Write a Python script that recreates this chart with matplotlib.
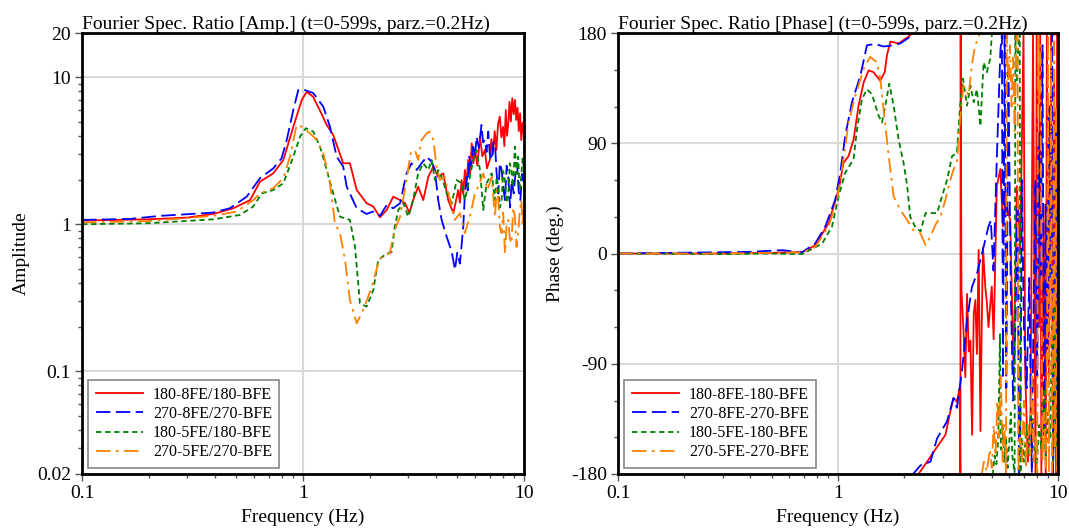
import numpy as np
import matplotlib
matplotlib.use("Agg")
import matplotlib.pyplot as plt
from matplotlib.ticker import FixedLocator, NullFormatter, LogLocator

plt.rcParams['font.family'] = ['Liberation Serif', 'DejaVu Serif']

# ---------------- Amplitude data ----------------
amp_red_f = [0.1, 0.198, 0.3, 0.393, 0.484, 0.576, 0.639, 0.734, 0.815, 0.904, 0.987, 1.04, 1.11, 1.19,
             1.28, 1.37, 1.52, 1.63, 1.75, 1.94, 2.08, 2.23, 2.39, 2.56, 2.75, 2.9, 3.03, 3.15, 3.32, 3.5,
             3.69, 3.89, 4.09, 4.31, 4.54, 4.79, 5.04, 5.13, 5.22, 5.31, 5.4, 5.5, 5.59, 5.7, 5.8, 5.9,
             6.0, 6.15, 6.32, 6.48, 6.65, 6.8, 7.0, 7.12, 7.24, 7.37, 7.5, 7.63, 7.77, 7.9, 8.04, 8.15,
             8.27, 8.38, 8.49, 8.6, 8.72, 8.85, 8.98, 9.1, 9.23, 9.35, 9.47, 9.6, 9.72, 9.85, 9.97]
amp_red_v = [1.06, 1.08, 1.11, 1.175, 1.285, 1.46, 1.95, 2.22, 2.74, 4.6, 7.0, 7.96, 7.38, 5.98,
             4.74, 4.05, 2.6, 2.6, 1.71, 1.39, 1.32, 1.115, 1.25, 1.54, 1.46, 1.39, 1.19, 1.46, 1.8, 1.46,
             2.1, 2.47, 2.1, 2.22, 1.46, 1.19, 1.71, 1.4, 2.0, 1.6, 2.34, 1.9, 2.74, 2.2, 3.55, 2.6,
             3.2, 2.5, 3.94, 2.9, 3.2, 2.4, 2.74, 3.8, 3.0, 4.3, 3.2, 4.8, 5.4, 3.9, 4.6, 3.4,
             5.98, 4.0, 4.86, 6.8, 5.0, 7.2, 5.6, 7.0, 5.12, 6.2, 4.3, 5.68, 3.74, 4.9, 4.16]

amp_blue_f = [0.1, 0.165, 0.225, 0.392, 0.467, 0.556, 0.639, 0.734, 0.8, 0.844, 0.904, 0.952, 1.0, 1.113,
              1.236, 1.325, 1.42, 1.52, 1.577, 1.75, 1.94, 2.08, 2.23, 2.39, 2.56, 2.75, 2.94, 3.1, 3.27,
              3.44, 3.63, 3.82, 3.95, 4.09, 4.24, 4.47, 4.71, 4.87, 4.99, 5.13, 5.31, 5.4, 5.5, 5.57,
              5.65, 5.77, 5.89, 6.0, 6.1, 6.25, 6.42, 6.53, 6.65, 6.77, 6.89, 7.0, 7.14, 7.27, 7.39,
              7.52, 7.65, 7.78, 7.92, 8.05, 8.2, 8.35, 8.49, 8.65, 8.8, 8.98, 9.15, 9.3, 9.45, 9.63,
              9.8, 9.97]
amp_blue_v = [1.07, 1.087, 1.14, 1.2, 1.285, 1.54, 2.06, 2.4, 2.81, 3.74, 5.98, 8.19, 8.27, 7.8,
              6.3, 4.6, 2.88, 2.47, 1.8, 1.285, 1.175, 1.22, 1.14, 1.35, 1.285, 1.39, 2.22, 2.6, 2.34,
              2.6, 2.88, 2.66, 2.34, 1.46, 1.07, 0.82, 0.65, 0.49, 0.64, 0.54, 0.96, 1.6, 2.1, 1.7,
              2.88, 2.5, 3.37, 2.9, 3.94, 3.3, 4.74, 3.6, 3.74, 3.1, 4.27, 3.0, 2.74, 3.6, 3.55,
              2.2, 1.62, 2.6, 2.34, 1.8, 1.46, 2.5, 2.1, 1.3, 2.0, 1.62, 2.2, 2.6, 1.7, 1.46,
              2.2, 1.9]

amp_green_f = [0.1, 0.198, 0.393, 0.519, 0.596, 0.65, 0.734, 0.815, 0.904, 0.969, 1.03, 1.113, 1.194,
               1.28, 1.37, 1.47, 1.63, 1.72, 1.81, 1.94, 2.08, 2.19, 2.35, 2.52, 2.6, 2.7, 2.85, 2.99,
               3.15, 3.32, 3.5, 3.69, 3.82, 3.95, 4.09, 4.29, 4.47, 4.71, 4.96, 5.22, 5.4, 5.69, 5.89,
               6.1, 6.32, 6.54, 6.77, 7.14, 7.39, 7.52, 7.65, 7.78, 7.92, 8.05, 8.2, 8.35, 8.49, 8.63,
               8.78, 8.93, 9.09, 9.25, 9.41, 9.56, 9.72, 9.85, 9.97]
amp_green_v = [1.0, 1.016, 1.08, 1.157, 1.32, 1.62, 1.71, 1.9, 2.88, 3.94, 4.5, 4.27, 3.37,
               2.34, 1.62, 1.126, 1.07, 0.7, 0.29, 0.275, 0.357, 0.57, 0.62, 0.65, 0.96, 1.25, 1.39, 1.126,
               1.46, 2.22, 2.6, 2.34, 2.74, 2.0, 2.34, 2.0, 1.62, 1.39, 2.0, 1.9, 1.46, 2.1, 2.74,
               3.2, 2.34, 1.25, 1.9, 2.22, 1.46, 2.1, 1.8, 1.3, 1.46, 2.3, 2.0, 1.4, 1.54, 2.6,
               2.34, 1.8, 3.37, 2.2, 2.88, 1.7, 2.1, 2.8, 2.47]

amp_orange_f = [0.1, 0.198, 0.393, 0.5, 0.596, 0.639, 0.734, 0.815, 0.873, 0.936, 0.987, 1.075, 1.153,
                1.236, 1.325, 1.395, 1.47, 1.55, 1.63, 1.75, 1.87, 2.05, 2.19, 2.27, 2.47, 2.6, 2.75,
                2.94, 3.07, 3.21, 3.32, 3.44, 3.63, 3.75, 3.89, 4.02, 4.16, 4.38, 4.63, 4.87, 5.13, 5.4,
                5.69, 6.0, 6.2, 6.54, 6.83, 7.14, 7.39, 7.52, 7.65, 7.78, 7.92, 8.05, 8.2, 8.35, 8.49,
                8.63, 8.78, 8.93, 9.09, 9.25, 9.41, 9.56, 9.72, 9.85, 9.97]
amp_orange_v = [1.03, 1.05, 1.14, 1.22, 1.46, 1.62, 1.76, 2.06, 2.88, 4.74, 4.6, 4.16, 3.74,
                3.04, 1.9, 1.016, 0.87, 0.57, 0.305, 0.212, 0.26, 0.377, 0.543, 0.6, 0.635, 0.915, 1.126,
                2.0, 3.04, 3.2, 2.74, 3.74, 4.16, 4.27, 3.74, 2.47, 2.0, 2.1, 1.46, 1.07, 1.19, 0.87,
                1.126, 1.62, 1.8, 2.22, 1.71, 2.1, 1.126, 1.7, 1.46, 0.95, 0.87, 1.2, 0.635, 1.0, 1.07,
                0.8, 0.74, 1.3, 1.126, 0.7, 0.87, 1.2, 1.46, 1.0, 1.25]

# ---------------- Phase data (None = gap where curve leaves the frame) ----------------
ph_red_f = [0.1, 0.3, 0.5, 0.6, 0.69, 0.788, 0.906, 1.006, 1.06, 1.117, 1.177, 1.24, 1.31, 1.378, 1.45,
            1.556, 1.63, 1.67, 1.73, 1.886, 2.09, 2.25, None,
            2.3, 2.54, 2.72, 2.92, 3.08, 3.24, 3.35, 3.47, 3.57, 3.60, 3.61, 3.64, 3.72, 3.79, 3.86, 3.93,
            4.0, 4.07, 4.14, 4.21, 4.28, 4.36, 4.44, 4.5, 4.56, 4.67, 4.75, 4.83, 5.0, 5.1, 5.27, 5.47,
            5.62, 5.75, 5.86, 6.07, 6.18, 6.28, 6.4, 6.5, 6.62, 6.73, 6.85, 6.97, 7.1, 7.3, 7.5, 7.7,
            7.9, 8.0, 8.2, 8.3, 8.4, 8.6, 8.8, 8.9, 9.1, 9.3, 9.5, 9.6, 9.8, 9.9, 10.0]
ph_red_v = [0, 0, 0.5, 1, 1, 6.8, 24.7, 52, 74, 79.5, 93, 120.7, 140, 149.5, 148,
            141, 148, 162, 173, 171.5, 177, 182, None,
            -181, -170, -162, -154, -148, -129, -118, -121, -110, -179, 179, -30, -63, -101, -33, -80,
            -71, -148, -49, -38, -82, 3, -145, -60, 5, -27, -40, -60, -27, -70, 55, 69,
            22, 45, 38, 27, -40, -91, -20, 55, 30, 0, 90, 179, -100, -170, -130, 179,
            -179, 179, -60, 179, -179, 40, -179, 179, -100, 179, -179, 150, -179, 179, -150]

ph_blue_f = [0.1, 0.39, 0.557, 0.686, 0.788, 0.875, 0.972, 1.024, 1.079, 1.157, 1.263, 1.354, 1.477,
             1.61, 1.73, 1.92, 2.13, 2.2, None,
             2.17, 2.37, 2.63, 2.82, 3.13, 3.35, 3.47, 3.66, 3.86, 4.06, 4.28, 4.59, 4.83, 4.95, 5.09,
             5.27, 5.47, 5.56, 5.62, 5.72, 5.82, 5.95, 6.1, 6.25, 6.4, 6.55, 6.65, 6.75, 6.85, 7.0, 7.2,
             7.4, 7.6, 7.75, 7.9, 8.05, 8.2, 8.35, 8.5, 8.65, 8.8, 8.95, 9.1, 9.25, 9.4, 9.5, 9.65, 9.8,
             9.9, 10.0]
ph_blue_v = [0, 1.3, 2.7, 1, 8.2, 22, 44, 66, 96, 123.5, 145, 170, 171,
             169, 169.6, 171.5, 177, 182, None,
             -181, -173, -170, -151, -137, -118, -126, -96, -55, -27.5, -16.5, 5.4, 22, 27, -14,
             77, 165, 179, -100, 178, -110, 150, -30, -120, -60, 40, -179, -140, 60, -60, -110,
             -20, -179, -40, 60, -100, 100, -20, 170, -150, 40, -80, 120, -30, 179, -179, -60, 120,
             -120, 50]

ph_green_f = [0.1, 0.3, 0.5, 0.686, 0.846, 0.939, 1.006, 1.079, 1.177, 1.22, 1.285, 1.354, 1.427, 1.53,
              1.585, 1.64, 1.71, 1.79, 1.886, 1.986, 2.06, 2.13, 2.24, 2.37, 2.5, 2.63, 2.82, 2.97, 3.13,
              3.3, 3.47, 3.59, 3.7, 3.86, 4.0, 4.14, 4.28, 4.44, 4.59, 4.75, 4.92, 5.0, 5.05, None,
              5.05, 5.15, 5.25, 5.35, 5.45, 5.5, 5.6, 5.7, 5.8, 5.9, 6.0, 6.1, 6.2, 6.35, 6.4, 6.5, 6.6,
              6.7, 6.75, 6.85, 7.0, 7.2, 7.4, 7.6, 7.8, 8.0, 8.2, 8.4, 8.6, 8.8, 9.0, 9.2, 9.4, 9.5, 9.6,
              9.7, 9.8, 9.9, 10.0]
ph_green_v = [0, -0.5, 0, -0.5, 8, 22, 46.6, 66, 77, 101.5, 126, 134, 130, 112.5,
              107, 120.7, 138.6, 120.7, 93, 74, 56, 30, 22, 18, 33, 33, 33, 46.6, 60,
              79.5, 82, 120.7, 142.7, 120.7, 137, 123.5, 134, 104, 156, 148, 159, 178, 182, None,
              -181, -165, -172, -150, -66, -160, -140, -170, -150, -175, -155, -130, -165, -179, 179, 140, 170,
              179, -179, -150, -170, -140, -165, -120, -160, -175, -140, -160, -110, -170, -130, -150, -60, -170, -30,
              -160, -80, -175, -120]

ph_orange_f = [0.1, 0.3, 0.5, 0.69, 0.788, 0.906, 0.99, 1.043, 1.117, 1.2, 1.31, 1.4, 1.504, 1.556, 1.61,
               1.7, 1.79, 1.92, 2.06, 2.2, 2.37, 2.5, 2.63, 2.77, 2.92, 3.08, 3.24, 3.35, 3.47, 3.59, 3.72,
               3.92, 4.06, 4.2, 4.35, 4.44, None,
               4.5, 4.6, 4.75, 4.9, 5.0, 5.1, 5.2, 5.3, 5.4, 5.5, 5.6, 5.7, 5.8, 5.85, 5.95, 6.05, 6.15,
               6.25, 6.35, 6.45, 6.55, 6.6, 6.7, 6.85, 7.0, 7.15, 7.3, 7.45, 7.6, 7.75, 7.9, 8.05, 8.1,
               8.2, 8.3, 8.5, 8.65, 8.8, 8.9, 9.0, 9.1, 9.2, 9.3, 9.4, 9.5, 9.6, 9.7, 9.8, 9.9, 10.0]
ph_orange_v = [0, 0, 0.5, 1, 5.4, 22, 44, 68.6, 107, 129, 151, 160.5, 156, 142.7, 118,
               79.5, 46.6, 35.6, 27.4, 19, 16.5, 6.8, 13.7, 23.3, 30, 44, 60, 68.6, 74, 109.7, 137,
               129, 153.6, 170, 176, 182, None,
               -181, -170, -178, -160, -175, -140, -165, -120, -150, -100, -170, -140, -179, 179, 140, 170, 120,
               160, 100, 175, 179, -179, -150, -170, -120, -175, -140, -165, -100, -170, -150, -179, 179,
               120, 170, -170, -130, -175, -100, 179, -179, -60, 170, -179, -110, 179, -160, 120, -179, -140]

labels_amp = ['180-8FE/180-BFE', '270-8FE/270-BFE', '180-5FE/180-BFE', '270-5FE/270-BFE']
labels_ph = ['180-8FE-180-BFE', '270-8FE-270-BFE', '180-5FE-180-BFE', '270-5FE-270-BFE']

colors = ['#ff0000', '#0000ff', '#008000', '#ff8000']
styles = ['-', (0, (8, 3)), (0, (3, 2)), (0, (8, 3, 1.5, 3))]


def arr(x):
    return np.array([np.nan if v is None else v for v in x], dtype=float)


fig = plt.figure(figsize=(10.69, 5.30), dpi=100)
axL = fig.add_axes([82 / 1069, 1 - 474 / 530, (524 - 82) / 1069, (474 - 33) / 530])
axR = fig.add_axes([618 / 1069, 1 - 474 / 530, (1058 - 618) / 1069, (474 - 33) / 530])

FS = 14
LFS = 11.5
lw = 1.3

amp_sets = [(amp_red_f, amp_red_v), (amp_blue_f, amp_blue_v),
            (amp_green_f, amp_green_v), (amp_orange_f, amp_orange_v)]
for (f, v), c, s, lab in zip(amp_sets, colors, styles, labels_amp):
    axL.plot(arr(f), arr(v), color=c, ls=s, lw=lw, label=lab)

ph_sets = [(ph_red_f, ph_red_v), (ph_blue_f, ph_blue_v),
           (ph_green_f, ph_green_v), (ph_orange_f, ph_orange_v)]
for (f, v), c, s, lab in zip(ph_sets, colors, styles, labels_ph):
    axR.plot(arr(f), arr(v), color=c, ls=s, lw=lw, label=lab)

for ax in (axL, axR):
    ax.set_xscale('log')
    ax.set_xlim(0.1, 10)
    ax.set_xticks([0.1, 1, 10])
    ax.set_xticklabels(['0.1', '1', '10'])
    ax.xaxis.set_minor_locator(LogLocator(base=10, subs=np.arange(2, 10)))
    ax.xaxis.set_minor_formatter(NullFormatter())
    ax.tick_params(which='major', direction='out', length=5, width=1, labelsize=FS, color='#555555', pad=3)
    ax.tick_params(which='minor', direction='out', length=3, width=1, color='#555555')
    ax.tick_params(top=False, right=False, which='both')
    for sp in ax.spines.values():
        sp.set_linewidth(2)
        sp.set_color('black')
    ax.set_xlabel('Frequency (Hz)', fontsize=FS, labelpad=4.5)
    ax.set_axisbelow(True)

axL.set_yscale('log')
axL.set_ylim(0.02, 20)
axL.set_yticks([0.02, 0.1, 1, 10, 20])
axL.set_yticklabels(['0.02', '0.1', '1', '10', '20'])
axL.yaxis.set_minor_locator(LogLocator(base=10, subs=np.arange(2, 10)))
axL.yaxis.set_minor_formatter(NullFormatter())
for v in [0.1, 1, 10]:
    axL.axhline(v, color='#d9d9d9', lw=1.5, zorder=0)
axL.axvline(1, color='#d9d9d9', lw=1.5, zorder=0)
axL.set_ylabel('Amplitude', fontsize=FS, labelpad=5)
axL.set_title('Fourier Spec. Ratio [Amp.] (t=0-599s, parz.=0.2Hz)', loc='left', fontsize=FS, pad=3)

axR.set_ylim(-180, 180)
axR.set_yticks([-180, -90, 0, 90, 180])
axR.set_yticklabels(['-180', '-90', '0', '90', '180'])
axR.yaxis.set_minor_locator(FixedLocator(np.arange(-180, 181, 30)))
for v in [-90, 0, 90]:
    axR.axhline(v, color='#d9d9d9', lw=1.5, zorder=0)
axR.axvline(1, color='#d9d9d9', lw=1.5, zorder=0)
axR.set_ylabel('Phase (deg.)', fontsize=FS, labelpad=5)
axR.set_title('Fourier Spec. Ratio [Phase] (t=0-599s, parz.=0.2Hz)', loc='left', fontsize=FS, pad=3)

for ax in (axL, axR):
    leg = ax.legend(loc='lower left', fontsize=LFS, frameon=True, fancybox=False,
                    borderaxespad=0.4, handlelength=3.0, handletextpad=0.6,
                    labelspacing=0.2, borderpad=0.45)
    leg.get_frame().set_edgecolor('#888888')
    leg.get_frame().set_linewidth(1.2)
    leg.get_frame().set_alpha(1)

fig.savefig('out.png', dpi=100)
